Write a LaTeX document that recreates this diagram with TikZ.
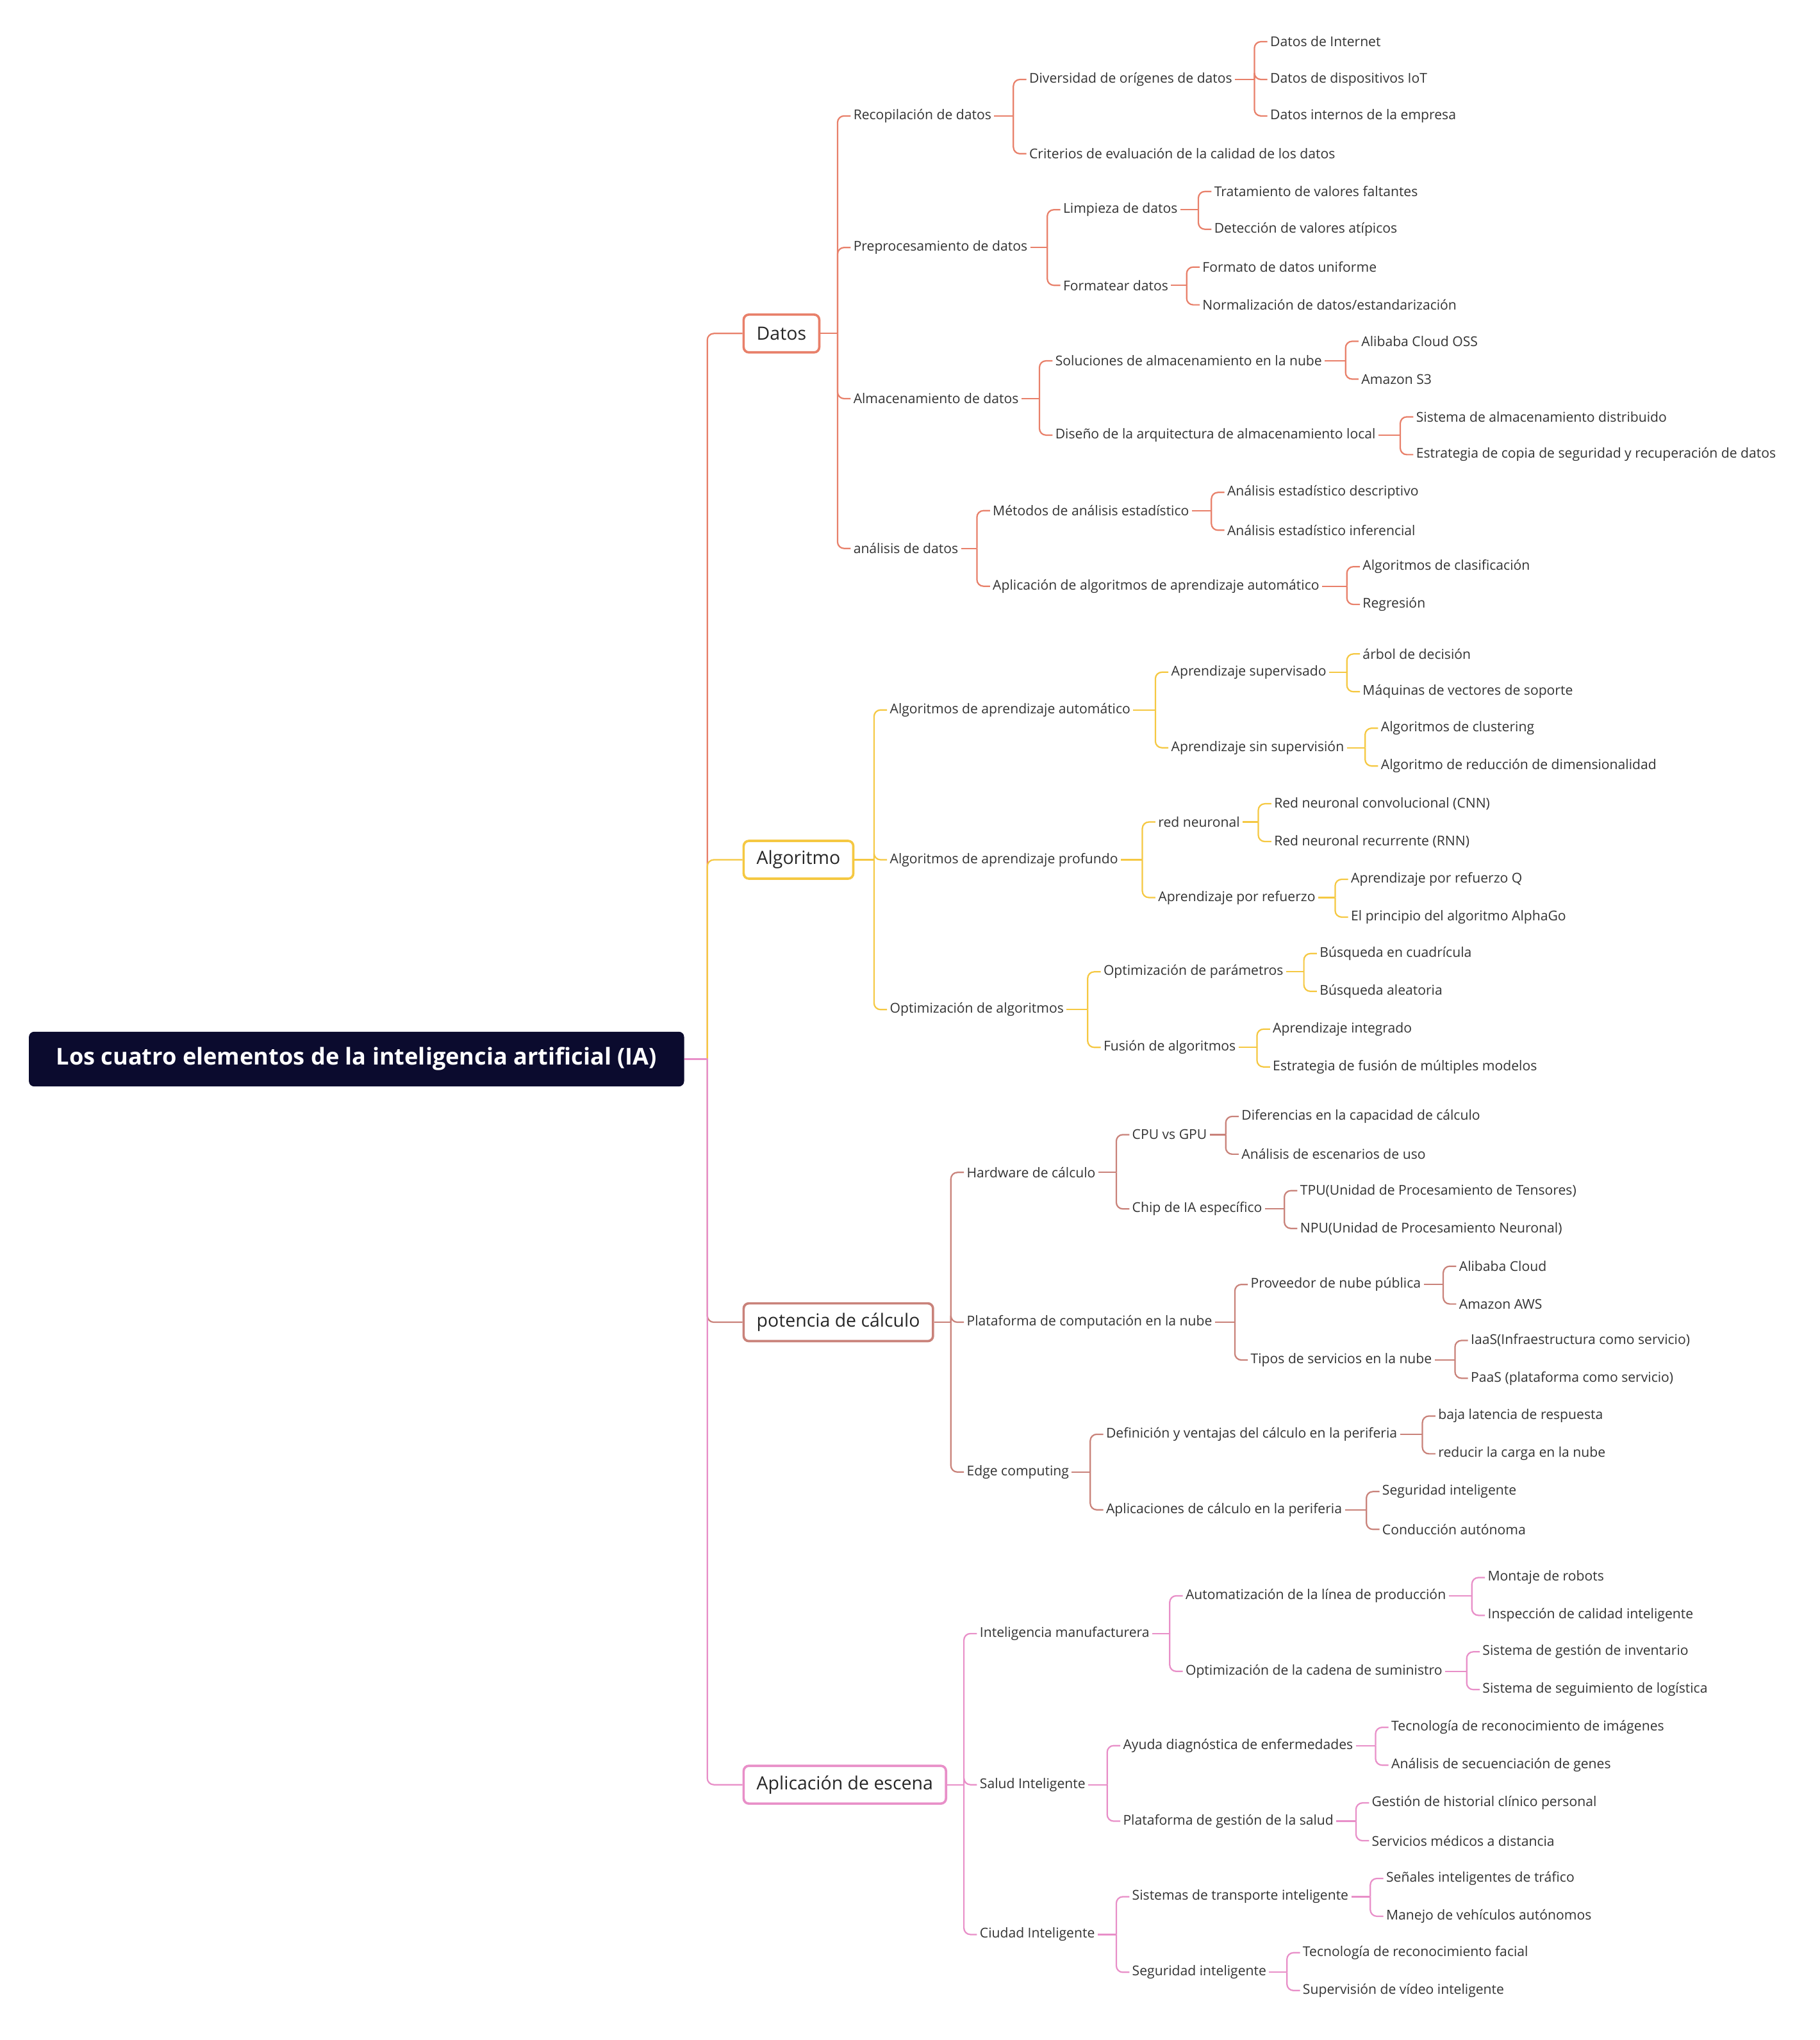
\documentclass[tikz,border=0pt]{standalone}
\usepackage{fontspec}
\setmainfont{Open Sans}
\usetikzlibrary{calc}
\definecolor{cA}{HTML}{E8806A}
\definecolor{cB}{HTML}{F5C842}
\definecolor{cC}{HTML}{C9827A}
\definecolor{cD}{HTML}{E88FC8}
\definecolor{navy}{HTML}{0B0B2E}
\tikzset{
 tn/.style={anchor=west,inner xsep=2pt,inner ysep=3pt,font=\fontsize{10.4}{12}\selectfont,text=black!80},
 l1/.style={draw=#1,line width=1.8pt,rounded corners=4pt,fill=white,anchor=west,inner xsep=10pt,minimum height=29pt,font=\fontsize{14}{16}\selectfont,text=black!85},
}
\newcommand\tn[4]{\node[tn] (#1) at (#2-2,#3) {#4};}
\newcommand\lk[4][10pt]{\draw[#2,line width=1.1pt] let \p1=(#4.west), \p2=(#3.east) in (\p2) -- (\x1-#1,\y2);
 \draw[#2,line width=1.1pt,rounded corners=5pt] let \p1=(#4.west), \p2=(#3.east) in (\x1-#1,\y2) -- (\x1-#1,\y1) -- (\p1);}
\begin{document}
\begin{tikzpicture}[x=1pt,y=-1pt]
\useasboundingbox (0,0) rectangle (1397,1566);
\node[fill=navy,rounded corners=4pt,anchor=west,minimum width=503pt,minimum height=42pt,text=white,font=\bfseries\fontsize{17.8}{20}\selectfont] (root) at (22,813) {Los cuatro elementos de la inteligencia artificial (IA)};
\node[l1=cA] (A) at (570,256) {Datos};
\node[l1=cB] (B) at (570,660) {Algoritmo};
\node[l1=cC] (C) at (570,1015) {potencia de cálculo};
\node[l1=cD] (D) at (570,1370) {Aplicación de escena};
\lk[27pt]{cA}{root}{A}\lk[27pt]{cB}{root}{B}\lk[27pt]{cC}{root}{C}\lk[27pt]{cD}{root}{D}
% Datos
\tn{a1}{655}{89}{Recopilación de datos}
\tn{a11}{790}{61}{Diversidad de orígenes de datos}
\tn{a111}{975}{32}{Datos de Internet}
\tn{a112}{975}{61}{Datos de dispositivos IoT}
\tn{a113}{975}{89}{Datos internos de la empresa}
\tn{a12}{790}{118}{Criterios de evaluación de la calidad de los datos}
\tn{a2}{655}{190}{Preprocesamiento de datos}
\tn{a21}{816}{161}{Limpieza de datos}
\tn{a211}{932}{147}{Tratamiento de valores faltantes}
\tn{a212}{932}{176}{Detección de valores atípicos}
\tn{a22}{816}{219}{Formatear datos}
\tn{a221}{923}{205}{Formato de datos uniforme}
\tn{a222}{923}{234}{Normalización de datos/estandarización}
\tn{a3}{655}{306}{Almacenamiento de datos}
\tn{a31}{810}{277}{Soluciones de almacenamiento en la nube}
\tn{a311}{1045}{262}{Alibaba Cloud OSS}
\tn{a312}{1045}{291}{Amazon S3}
\tn{a32}{810}{334}{Diseño de la arquitectura de almacenamiento local}
\tn{a321}{1087}{320}{Sistema de almacenamiento distribuido}
\tn{a322}{1087}{349}{Estrategia de copia de seguridad y recuperación de datos}
\tn{a4}{655}{421}{análisis de datos}
\tn{a41}{762}{392}{Métodos de análisis estadístico}
\tn{a411}{942}{378}{Análisis estadístico descriptivo}
\tn{a412}{942}{407}{Análisis estadístico inferencial}
\tn{a42}{762}{450}{Aplicación de algoritmos de aprendizaje automático}
\tn{a421}{1046}{435}{Algoritmos de clasificación}
\tn{a422}{1046}{464}{Regresión}
\foreach \pa/\ch in {A/a1,A/a2,A/a3,A/a4,a1/a11,a1/a12,a11/a111,a11/a112,a11/a113,a2/a21,a2/a22,a21/a211,a21/a212,a22/a221,a22/a222,a3/a31,a3/a32,a31/a311,a31/a312,a32/a321,a32/a322,a4/a41,a4/a42,a41/a411,a41/a412,a42/a421,a42/a422}{\lk{cA}{\pa}{\ch}}
% Algoritmo
\tn{b1}{683}{545}{Algoritmos de aprendizaje automático}
\tn{b11}{899}{516}{Aprendizaje supervisado}
\tn{b111}{1046}{502}{árbol de decisión}
\tn{b112}{1046}{531}{Máquinas de vectores de soporte}
\tn{b12}{899}{574}{Aprendizaje sin supervisión}
\tn{b121}{1060}{559}{Algoritmos de clustering}
\tn{b122}{1060}{588}{Algoritmo de reducción de dimensionalidad}
\tn{b2}{683}{660}{Algoritmos de aprendizaje profundo}
\tn{b21}{889}{631}{red neuronal}
\tn{b211}{978}{617}{Red neuronal convolucional (CNN)}
\tn{b212}{978}{646}{Red neuronal recurrente (RNN)}
\tn{b22}{889}{689}{Aprendizaje por refuerzo}
\tn{b221}{1037}{675}{Aprendizaje por refuerzo Q}
\tn{b222}{1037}{704}{El principio del algoritmo AlphaGo}
\tn{b3}{683}{775}{Optimización de algoritmos}
\tn{b31}{847}{746}{Optimización de parámetros}
\tn{b311}{1013}{732}{Búsqueda en cuadrícula}
\tn{b312}{1013}{761}{Búsqueda aleatoria}
\tn{b32}{847}{804}{Fusión de algoritmos}
\tn{b321}{977}{790}{Aprendizaje integrado}
\tn{b322}{977}{819}{Estrategia de fusión de múltiples modelos}
\foreach \pa/\ch in {B/b1,B/b2,B/b3,b1/b11,b1/b12,b11/b111,b11/b112,b12/b121,b12/b122,b2/b21,b2/b22,b21/b211,b21/b212,b22/b221,b22/b222,b3/b31,b3/b32,b31/b311,b31/b312,b32/b321,b32/b322}{\lk{cB}{\pa}{\ch}}
% potencia
\tn{c1}{742}{900}{Hardware de cálculo}
\tn{c11}{869}{871}{CPU vs GPU}
\tn{c111}{953}{857}{Diferencias en la capacidad de cálculo}
\tn{c112}{953}{886}{Análisis de escenarios de uso}
\tn{c12}{869}{928}{Chip de IA específico}
\tn{c121}{998}{914}{TPU(Unidad de Procesamiento de Tensores)}
\tn{c122}{998}{943}{NPU(Unidad de Procesamiento Neuronal)}
\tn{c2}{742}{1015}{Plataforma de computación en la nube}
\tn{c21}{960}{986}{Proveedor de nube pública}
\tn{c211}{1120}{972}{Alibaba Cloud}
\tn{c212}{1120}{1001}{Amazon AWS}
\tn{c22}{960}{1044}{Tipos de servicios en la nube}
\tn{c221}{1129}{1029}{IaaS(Infraestructura como servicio)}
\tn{c222}{1129}{1058}{PaaS (plataforma como servicio)}
\tn{c3}{742}{1130}{Edge computing}
\tn{c31}{849}{1101}{Definición y ventajas del cálculo en la periferia}
\tn{c311}{1104}{1087}{baja latencia de respuesta}
\tn{c312}{1104}{1116}{reducir la carga en la nube}
\tn{c32}{849}{1159}{Aplicaciones de cálculo en la periferia}
\tn{c321}{1061}{1145}{Seguridad inteligente}
\tn{c322}{1061}{1174}{Conducción autónoma}
\foreach \pa/\ch in {C/c1,C/c2,C/c3,c1/c11,c1/c12,c11/c111,c11/c112,c12/c121,c12/c122,c2/c21,c2/c22,c21/c211,c21/c212,c22/c221,c22/c222,c3/c31,c3/c32,c31/c311,c31/c312,c32/c321,c32/c322}{\lk{cC}{\pa}{\ch}}
% Aplicación
\tn{d1}{752}{1254}{Inteligencia manufacturera}
\tn{d11}{910}{1225}{Automatización de la línea de producción}
\tn{d111}{1142}{1211}{Montaje de robots}
\tn{d112}{1142}{1240}{Inspección de calidad inteligente}
\tn{d12}{910}{1283}{Optimización de la cadena de suministro}
\tn{d121}{1138}{1268}{Sistema de gestión de inventario}
\tn{d122}{1138}{1297}{Sistema de seguimiento de logística}
\tn{d2}{752}{1370}{Salud Inteligente}
\tn{d21}{862}{1340}{Ayuda diagnóstica de enfermedades}
\tn{d211}{1068}{1326}{Tecnología de reconocimiento de imágenes}
\tn{d212}{1068}{1355}{Análisis de secuenciación de genes}
\tn{d22}{862}{1398}{Plataforma de gestión de la salud}
\tn{d221}{1053}{1384}{Gestión de historial clínico personal}
\tn{d222}{1053}{1413}{Servicios médicos a distancia}
\tn{d3}{752}{1485}{Ciudad Inteligente}
\tn{d31}{869}{1456}{Sistemas de transporte inteligente}
\tn{d311}{1064}{1442}{Señales inteligentes de tráfico}
\tn{d312}{1064}{1471}{Manejo de vehículos autónomos}
\tn{d32}{869}{1514}{Seguridad inteligente}
\tn{d321}{1000}{1499}{Tecnología de reconocimiento facial}
\tn{d322}{1000}{1528}{Supervisión de vídeo inteligente}
\foreach \pa/\ch in {D/d1,D/d2,D/d3,d1/d11,d1/d12,d11/d111,d11/d112,d12/d121,d12/d122,d2/d21,d2/d22,d21/d211,d21/d212,d22/d221,d22/d222,d3/d31,d3/d32,d31/d311,d31/d312,d32/d321,d32/d322}{\lk{cD}{\pa}{\ch}}
\end{tikzpicture}
\end{document}
